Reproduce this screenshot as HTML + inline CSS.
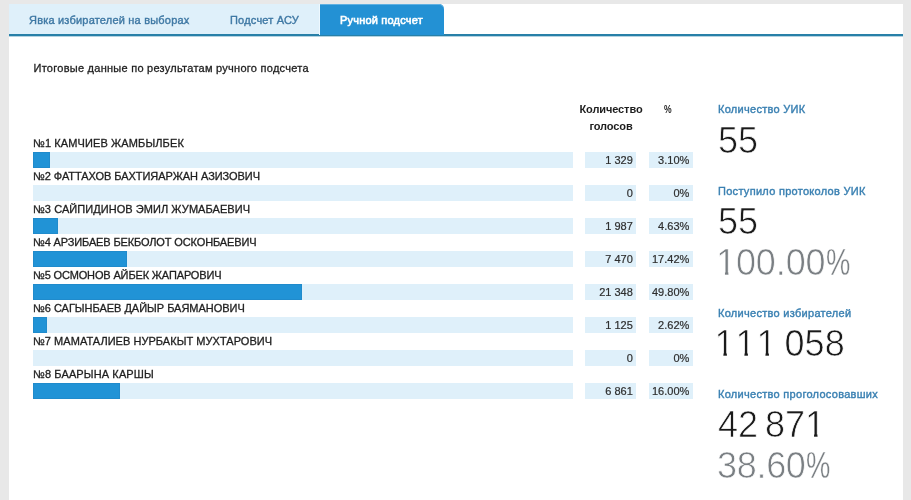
<!DOCTYPE html>
<html lang="ru">
<head>
<meta charset="utf-8">
<title>Ручной подсчет</title>
<style>
html,body{margin:0;padding:0;}
body{width:911px;height:500px;overflow:hidden;background:#e8e8e8;font-family:"Liberation Sans",sans-serif;font-size:11px;color:#1e1e1e;position:relative;}
#panel{position:absolute;left:9px;top:4px;width:894.4px;height:520px;background:#fff;}
#tabs{position:absolute;left:0;top:0;width:894px;height:30px;border-bottom:2px solid #2880a8;box-shadow:0 1px 0 rgba(40,128,168,.35);margin:0;padding:0;list-style:none;}
#tabs li{position:absolute;top:0;height:30px;line-height:30px;background:#dff0fa;color:#3f79a5;font-weight:normal;-webkit-text-stroke:0.4px #3f79a5;font-size:11px;letter-spacing:0.2px;text-shadow:0 1px 0 rgba(255,255,255,.5);white-space:nowrap;}
#tabs li span{position:absolute;top:1px;}
#tabs li.act{height:31px;background:#2391d4;color:#fff;-webkit-text-stroke:0.6px #fff;text-shadow:none;border-top-right-radius:5px;box-shadow:-1px 0 0 #eef8fe, inset 0 1px 0 #5fb0e2;}
#title{position:absolute;left:24.5px;-webkit-text-stroke:0.3px #1e1e1e;top:58px;font-size:11px;letter-spacing:0.26px;color:#1e1e1e;white-space:nowrap;}
.row{position:absolute;left:24px;width:670px;height:33px;}
.row .nm{position:absolute;left:0;top:-1px;-webkit-text-stroke:0.3px #1e1e1e;white-space:nowrap;font-size:11px;letter-spacing:0.12px;line-height:14px;color:#1e1e1e;}
.row .tr{position:absolute;left:0;top:15px;width:540px;height:16px;background:#dff0fa;}
.row .tr i{display:block;height:16px;background:#2193d6;box-sizing:border-box;box-shadow:inset 0 0 0 1px rgba(25,95,150,.15);}
.row .c1,.row .c2{position:absolute;top:15px;height:16px;line-height:16px;background:#dff0fa;text-align:right;font-size:11px;color:#2e2e2e;-webkit-text-stroke:0.2px #2e2e2e;box-sizing:border-box;padding-right:3.2px;white-space:nowrap;}
.row .c1{left:552px;width:51px;}
.row .c2{left:615.5px;width:44px;}
.th{position:absolute;font-weight:bold;font-size:11px;line-height:17px;color:#1e1e1e;text-align:center;}
.st{position:absolute;left:709px;white-space:nowrap;}
.lb{color:#3a80b2;font-weight:normal;-webkit-text-stroke:0.4px #3a80b2;margin-top:0.5px;font-size:11px;letter-spacing:0.29px;}
.big{font-size:36px;color:#1a1a1a;-webkit-text-stroke:0.7px #fff;word-spacing:-3px;}
.big b{font-weight:normal;-webkit-text-stroke:0.35px #fff;display:inline-block;transform:scaleX(.76);transform-origin:0 50%;}
.big.g{color:#7a7f83;}
.big u{text-decoration:none;display:inline-block;clip-path:polygon(0 0,100% 0,100% .8em,.343em .8em,.343em 100%,.249em 100%,.249em .8em,0 .8em);}
</style>
</head>
<body>
<div id="panel">
<ul id="tabs">
<li style="left:0;width:201px"><span style="left:20px">Явка избирателей на выборах</span></li>
<li style="left:201px;width:110px"><span style="left:20px">Подсчет АСУ</span></li>
<li class="act" style="left:311px;width:124px"><span style="left:20px">Ручной подсчет</span></li>
</ul>
<div id="title">Итоговые данные по результатам ручного подсчета</div>

<div class="th" style="left:559px;top:97px;width:86px;letter-spacing:-0.1px">Количество<br>голосов</div>
<div class="th" style="left:637px;top:96.5px;width:43px"><span style="display:inline-block;transform:scaleX(.78)">%</span></div>

<div class="row" style="top:133px"><div class="nm">№1 КАМЧИЕВ ЖАМБЫЛБЕК</div><div class="tr"><i style="width:16.8px"></i></div><div class="c1">1 329</div><div class="c2">3.10%</div></div>
<div class="row" style="top:166px"><div class="nm" style="letter-spacing:-0.05px">№2 ФАТТАХОВ БАХТИЯАРЖАН АЗИЗОВИЧ</div><div class="tr"><i style="width:0"></i></div><div class="c1">0</div><div class="c2">0%</div></div>
<div class="row" style="top:199px"><div class="nm" style="letter-spacing:0.06px">№3 САЙПИДИНОВ ЭМИЛ ЖУМАБАЕВИЧ</div><div class="tr"><i style="width:25px"></i></div><div class="c1">1 987</div><div class="c2">4.63%</div></div>
<div class="row" style="top:232px"><div class="nm" style="letter-spacing:-0.13px">№4 АРЗИБАЕВ БЕКБОЛОТ ОСКОНБАЕВИЧ</div><div class="tr"><i style="width:94.1px"></i></div><div class="c1">7 470</div><div class="c2">17.42%</div></div>
<div class="row" style="top:265px"><div class="nm" style="letter-spacing:-0.14px">№5 ОСМОНОВ АЙБЕК ЖАПАРОВИЧ</div><div class="tr"><i style="width:269px"></i></div><div class="c1">21 348</div><div class="c2">49.80%</div></div>
<div class="row" style="top:298px"><div class="nm" style="letter-spacing:-0.02px">№6 САГЫНБАЕВ ДАЙЫР БАЯМАНОВИЧ</div><div class="tr"><i style="width:14.2px"></i></div><div class="c1">1 125</div><div class="c2">2.62%</div></div>
<div class="row" style="top:331px"><div class="nm" style="letter-spacing:0.04px">№7 МАМАТАЛИЕВ НУРБАКЫТ МУХТАРОВИЧ</div><div class="tr"><i style="width:0"></i></div><div class="c1">0</div><div class="c2">0%</div></div>
<div class="row" style="top:364px"><div class="nm">№8 БААРЫНА КАРШЫ</div><div class="tr"><i style="width:86.6px"></i></div><div class="c1">6 861</div><div class="c2">16.00%</div></div>

<div class="st lb" style="top:98px">Количество УИК</div>
<div class="st big" style="top:116px">55</div>
<div class="st lb" style="top:180px">Поступило протоколов УИК</div>
<div class="st big" style="top:197px">55</div>
<div class="st big g" style="top:238px;left:707px;letter-spacing:-0.1px"><u>1</u>00.00<b>%</b></div>
<div class="st lb" style="top:302px">Количество избирателей</div>
<div class="st big" style="top:319px"><u style="margin-left:-3.5px">1</u><u style="margin-left:1px">1</u><u style="margin-left:1px;margin-right:1px">1</u> 058</div>
<div class="st lb" style="top:383px">Количество проголосовавших</div>
<div class="st big" style="top:400px">42 87<u>1</u></div>
<div class="st big g" style="top:441px;left:708px;letter-spacing:-0.3px">38.60<b>%</b></div>
</div>
</body>
</html>
